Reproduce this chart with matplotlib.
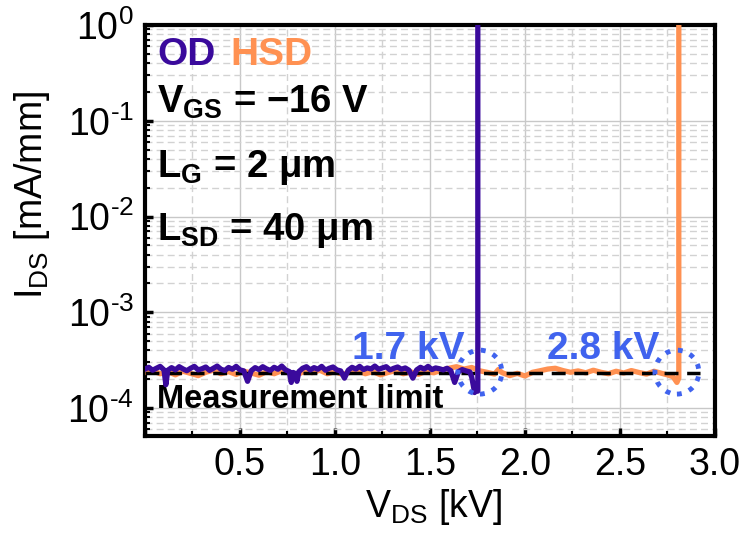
import numpy as np
import matplotlib
matplotlib.use('Agg')
import matplotlib.pyplot as plt
from matplotlib.ticker import MultipleLocator, LogLocator, FuncFormatter, NullFormatter

plt.rcParams['font.family'] = ['Liberation Sans', 'DejaVu Sans']
plt.rcParams['mathtext.fontset'] = 'custom'
plt.rcParams['mathtext.rm'] = 'Liberation Sans'
plt.rcParams['mathtext.bf'] = 'Liberation Sans:bold'
plt.rcParams['mathtext.it'] = 'Liberation Sans:italic'

# --- data (I_DS in units of 1e-4 mA/mm) ---
od_vds = [0.00, 0.02, 0.04, 0.06, 0.08, 0.10, 0.11, 0.12, 0.14, 0.16, 0.18, 0.20,
          0.22, 0.24, 0.26, 0.28, 0.30, 0.32, 0.34, 0.36, 0.38, 0.40, 0.42, 0.44,
          0.46, 0.48, 0.50, 0.52, 0.54, 0.56, 0.58, 0.60, 0.62, 0.64, 0.66, 0.68,
          0.70, 0.72, 0.74, 0.76, 0.77, 0.78, 0.79, 0.80, 0.81, 0.83, 0.85, 0.87,
          0.89, 0.91, 0.93, 0.95, 0.97, 0.99, 1.01, 1.03, 1.05, 1.07, 1.09, 1.11,
          1.13, 1.15, 1.17, 1.19, 1.21, 1.23, 1.25, 1.27, 1.29, 1.31, 1.33, 1.35,
          1.37, 1.39, 1.41, 1.43, 1.45, 1.47, 1.49, 1.51, 1.53, 1.55, 1.57, 1.59,
          1.61, 1.63, 1.65, 1.67, 1.69, 1.71, 1.72, 1.735, 1.745, 1.752, 1.752]
od_ids = [2.55, 2.66, 2.48, 2.60, 2.72, 2.50, 1.75, 2.48, 2.64, 2.50, 2.70, 2.56,
          2.45, 2.60, 2.72, 2.50, 2.57, 2.68, 2.47, 2.60, 2.74, 2.54, 2.46, 2.65,
          2.54, 2.72, 2.50, 2.44, 1.90, 2.46, 2.64, 2.52, 2.70, 2.56, 2.47, 2.66,
          2.54, 2.74, 2.50, 2.40, 1.85, 2.35, 2.30, 1.90, 2.40, 2.60, 2.70, 2.50,
          2.64, 2.54, 2.72, 2.48, 2.60, 2.68, 2.50, 2.44, 2.05, 2.48, 2.66, 2.55,
          2.72, 2.52, 2.62, 2.56, 2.74, 2.54, 2.62, 2.70, 2.50, 2.60, 2.68, 2.54,
          2.62, 2.48, 2.05, 2.50, 2.66, 2.55, 2.72, 2.52, 2.62, 2.57, 2.50, 2.60,
          2.45, 1.85, 2.40, 2.52, 2.44, 2.38, 2.10, 1.45, 1.55, 1.50, 15000]

hsd_vds = [0.00, 0.04, 0.08, 0.12, 0.16, 0.20, 0.24, 0.28, 0.32, 0.36, 0.40, 0.44,
           0.48, 0.52, 0.56, 0.60, 0.64, 0.68, 0.72, 0.76, 0.80, 0.84, 0.88, 0.92,
           0.96, 1.00, 1.04, 1.08, 1.12, 1.16, 1.20, 1.24, 1.28, 1.32, 1.36, 1.40,
           1.44, 1.48, 1.52, 1.56, 1.60, 1.64, 1.68, 1.72, 1.76, 1.80, 1.84, 1.86,
           1.88, 1.92, 1.96, 2.00, 2.04, 2.08, 2.12, 2.16, 2.20, 2.24, 2.28, 2.32,
           2.36, 2.40, 2.44, 2.48, 2.52, 2.56, 2.60, 2.64, 2.68, 2.72, 2.75, 2.78,
           2.80, 2.81, 2.81]
hsd_ids = [2.35, 2.45, 2.28, 2.40, 2.22, 2.42, 2.30, 2.18, 2.36, 2.48, 2.28, 2.40,
           2.24, 2.42, 2.32, 2.20, 2.40, 2.28, 2.45, 2.32, 2.22, 2.42, 2.34, 2.48,
           2.28, 2.40, 2.24, 2.36, 2.45, 2.28, 2.40, 2.22, 2.35, 2.45, 2.28, 2.38,
           2.25, 2.42, 2.33, 2.48, 2.60, 2.70, 2.55, 2.65, 2.45, 2.36, 2.26, 2.52,
           2.34, 2.18, 2.30, 2.16, 2.36, 2.45, 2.55, 2.60, 2.46, 2.36, 2.44, 2.33,
           2.48, 2.36, 2.28, 2.42, 2.32, 2.46, 2.35, 2.26, 2.42, 2.30, 2.22, 2.12,
           1.85, 2.05, 15000]

meas_limit = 2.3e-4
bv_vds = [1.763, 2.80]          # breakdown markers
bv_labels = ['1.7 kV', '2.8 kV']

c_od = '#3a0a9c'
c_hsd = '#ff9152'
c_blue = '#4063ee'

fig = plt.figure(figsize=(7.45, 5.33), dpi=100)
ax = fig.add_axes([0.1946, 0.182, 0.765, 0.771])

ax.plot(hsd_vds, np.array(hsd_ids) * 1e-4, color=c_hsd, lw=3.8, zorder=3)
ax.plot([0, 2.92], [meas_limit, meas_limit], color='k', lw=2.5, ls=(0, (4, 2.5)), zorder=4)
ax.plot(od_vds, np.array(od_ids) * 1e-4, color=c_od, lw=3.8, zorder=5)
ax.scatter(bv_vds, [2.37e-4, 2.37e-4], s=1000, facecolors='none', edgecolors=c_blue,
           linewidths=3.5, linestyles=(0, (1, 1.6)), zorder=6)

ax.set_yscale('log')
ax.set_xlim(0, 3.0)
ax.set_ylim(5.1e-5, 1)

ax.xaxis.set_major_locator(MultipleLocator(0.5))
ax.xaxis.set_minor_locator(MultipleLocator(0.25))
ax.xaxis.set_major_formatter(FuncFormatter(lambda v, p: '' if v < 0.1 else '%.1f' % v))
ax.yaxis.set_major_locator(LogLocator(base=10, numticks=10))
ax.yaxis.set_minor_locator(LogLocator(base=10, subs=np.arange(2, 10), numticks=20))
ax.yaxis.set_minor_formatter(NullFormatter())
ax.yaxis.set_major_formatter(FuncFormatter(
    lambda v, p: r'10$^{\text{%d}}$' % int(round(np.log10(v)))))

ax.set_axisbelow(True)
ax.grid(which='major', color='#c8c8c8', lw=1.0, ls='-')
ax.grid(which='minor', color='#d2d2d2', lw=1.0, ls=(0, (5, 3)))

for s in ax.spines.values():
    s.set_linewidth(3)
ax.tick_params(which='major', direction='in', length=6, width=2.5, labelsize=27, pad=8)
ax.tick_params(which='minor', direction='in', length=3.5, width=1.5)

ax.set_xlabel(r'V$_{\rm DS}$ [kV]', fontsize=27)
ax.set_ylabel(r'I$_{\rm DS}$ [mA/mm]', fontsize=27)
ax.xaxis.set_label_coords(0.507, -0.125)
ax.yaxis.set_label_coords(-0.163, 0.586)

tr = ax.transAxes
ax.text(0.021, 0.903, 'OD', color=c_od, fontsize=28, fontweight='bold', transform=tr)
ax.text(0.149, 0.903, 'HSD', color=c_hsd, fontsize=28, fontweight='bold', transform=tr)
ax.text(0.021, 0.786, r'V$_{\mathbf{GS}}$ = −16 V', fontsize=27.5, fontweight='bold', transform=tr)
ax.text(0.021, 0.630, r'L$_{\mathbf{G}}$ = 2 μm', fontsize=27.5, fontweight='bold', transform=tr)
ax.text(0.021, 0.477, r'L$_{\mathbf{SD}}$ = 40 μm', fontsize=27.5, fontweight='bold', transform=tr)
ax.text(0.021, 0.068, 'Measurement limit', fontsize=23.5, fontweight='bold', transform=tr)
ax.text(0.56, 0.187, bv_labels[0], color=c_blue, fontsize=28, fontweight='bold',
        ha='right', transform=tr)
ax.text(0.902, 0.187, bv_labels[1], color=c_blue, fontsize=28, fontweight='bold',
        ha='right', transform=tr)

fig.savefig('out.png', dpi=100)
